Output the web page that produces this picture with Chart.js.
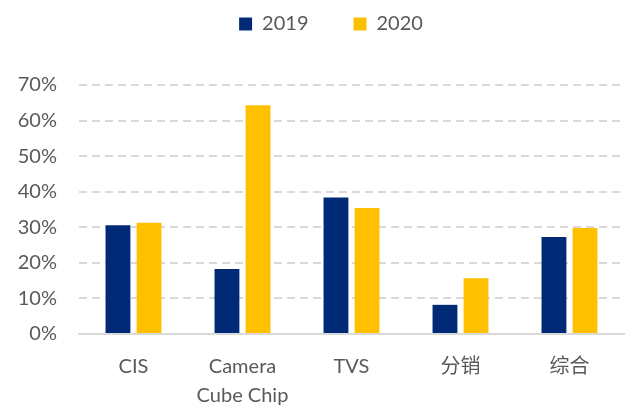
<!DOCTYPE html>
<html>
<head>
<meta charset="utf-8">
<script src="https://cdn.jsdelivr.net/npm/chart.js@4"></script>
<style>
  html, body { margin: 0; padding: 0; background: #fff; }
  #wrap { width: 627px; height: 407px; }
</style>
</head>
<body>
<div id="wrap"><canvas id="growthChart" width="627" height="407"></canvas></div>
<script>
const categories = ['CIS', ['Camera', 'Cube Chip'], 'TVS', '分销', '综合'];
const values2019 = [30.6, 18.3, 38.4, 8.2, 27.3];
const values2020 = [31.3, 64.3, 35.4, 15.7, 29.8];
const yTicks = [0, 10, 20, 30, 40, 50, 60, 70];

const fontFamily = 'Lato, "Noto Sans CJK SC", sans-serif';
const textColor = '#595959';

// legend sits a bit lower-right and further from the plot than default
const legendSpacer = {
    id: 'legendSpacer',
    beforeInit(chart) {
        const origFit = chart.legend.fit;
        chart.legend.fit = function() {
            origFit.bind(chart.legend)();
            this.height += 41;
        };
    },
    afterLayout(chart) {
        chart.legend.left += 38;
    }
};

const ctx = document.getElementById('growthChart');
new Chart(ctx, {
    type: 'bar',
    data: {
        labels: categories,
        datasets: [{
            label: '2019',
            data: values2019,
            backgroundColor: '#002A76',
            categoryPercentage: 0.57,
            barPercentage: 0.8
        }, {
            label: '2020',
            data: values2020,
            backgroundColor: '#FFC000',
            categoryPercentage: 0.57,
            barPercentage: 0.8
        }]
    },
    options: {
        responsive: false,
        animation: false,
        layout: {
            padding: { left: 0, right: 3, top: -31, bottom: -21 }
        },
        scales: {
            y: {
                min: 0,
                max: 70,
                afterBuildTicks: function(scale) {
                    scale.ticks = yTicks.map(v => ({ value: v }));
                },
                afterFit: function(scale) {
                    scale.width = 79;
                },
                grid: {
                    color: '#D9D9D9',
                    lineWidth: 2,
                    drawTicks: false
                },
                border: {
                    display: false,
                    dash: [8, 5]
                },
                ticks: {
                    color: textColor,
                    padding: 22,
                    font: { family: fontFamily, size: 20 },
                    callback: v => v + '%'
                }
            },
            x: {
                grid: {
                    display: false,
                    drawTicks: false
                },
                border: {
                    display: true,
                    color: '#D9D9D9',
                    width: 2
                },
                ticks: {
                    color: textColor,
                    padding: 18,
                    font: { family: fontFamily, size: 20, lineHeight: 1.45 }
                }
            }
        },
        plugins: {
            legend: {
                display: true,
                position: 'top',
                labels: {
                    color: textColor,
                    boxWidth: 13,
                    boxHeight: 13,
                    padding: 45,
                    font: { family: fontFamily, size: 20 }
                }
            },
            tooltip: { enabled: false }
        }
    },
    plugins: [legendSpacer]
});
</script>
</body>
</html>
